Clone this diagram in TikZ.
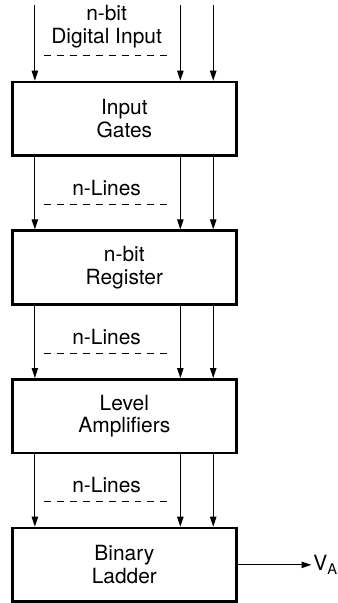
\documentclass[tikz,border=0pt]{standalone}
\usepackage{fontspec}
\setmainfont{TeX Gyre Heros}
\usetikzlibrary{arrows.meta,positioning,calc}

\begin{document}
\begin{tikzpicture}[font=\fontsize{10.5}{11.5}\selectfont,node distance=36.3pt,
  blk/.style={draw,line width=1.3pt,minimum width=112.5pt,minimum height=37pt,align=center},
  arr/.style={-{Triangle[length=5pt,width=3.2pt]},line width=0.55pt},
  dashline/.style={dashed,dash pattern=on 3.5pt off 3pt,line width=0.5pt},
  lbl/.style={align=center,inner sep=0pt}]
\node[blk] (gates) {Input\\Gates};
\node[blk,below=of gates] (reg) {n-bit\\Register};
\node[blk,below=of reg] (amp) {Level\\Amplifiers};
\node[blk,below=of amp] (ladder) {Binary\\Ladder};
\useasboundingbox ([shift={(-5.5pt,40.5pt)}]gates.north west) rectangle ++(169.5pt,-301.5pt);
% digital input
\foreach \dx [count=\i] in {12pt,85pt,101.5pt}{
  \coordinate (in\i) at ([shift={(\dx,38pt)}]gates.north west);
  \draw[arr] (in\i) -- ([xshift=\dx]gates.north west);}
\node[lbl] (din) at ([shift={(48pt,27pt)}]gates.north west) {n-bit\\Digital Input};
\draw[dashline] ([shift={(16.5pt,12.5pt)}]gates.north west) -- ([shift={(81pt,12.5pt)}]gates.north west);
% n lines between stages
\foreach \a/\b in {gates/reg,reg/amp,amp/ladder}{
  \foreach \dx in {12pt,85pt,101.5pt}
    \draw[arr] ([xshift=\dx]\a.south west) -- ([xshift=\dx]\b.north west);
  \node[lbl] (nl-\a) at ([shift={(48pt,-15.5pt)}]\a.south west) {n-Lines};
  \draw[dashline] ([shift={(16.5pt,12.5pt)}]\b.north west) -- ([shift={(81pt,12.5pt)}]\b.north west);}
% output
\coordinate (va) at ([xshift=37pt]ladder.east);
\draw[arr] (ladder.east) -- (va);
\node[anchor=west,inner sep=0.8pt] (vout) at (va) {V\textsubscript{A}};
\end{tikzpicture}
\end{document}
